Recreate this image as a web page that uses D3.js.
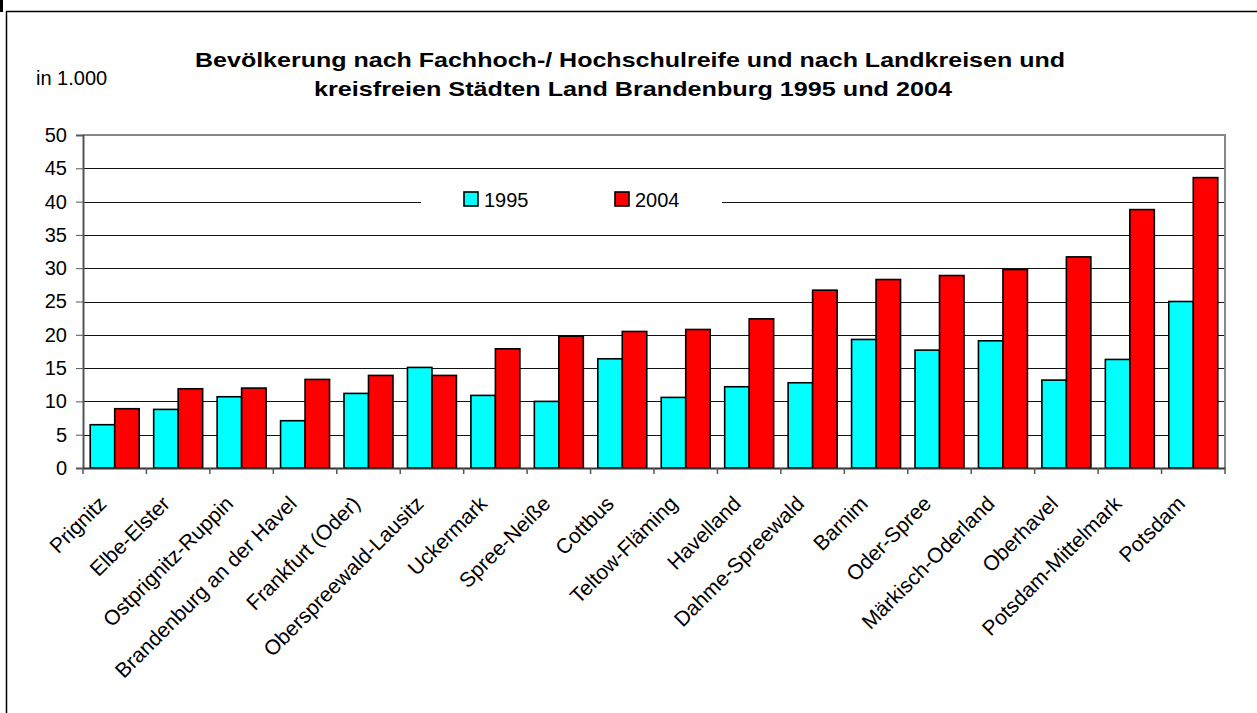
<!DOCTYPE html>
<html>
<head>
<meta charset="utf-8">
<script src="https://cdn.jsdelivr.net/npm/d3@7"></script>
<style>
  body { margin: 0; background: #fff; }
  svg { display: block; font-family: "Liberation Sans", Arial, sans-serif; }
</style>
</head>
<body>
<svg width="1257" height="713"></svg>
<script>
// Data (in 1.000)
var categories = ['Prignitz', 'Elbe-Elster', 'Ostprignitz-Ruppin', 'Brandenburg an der Havel',
    'Frankfurt (Oder)', 'Oberspreewald-Lausitz', 'Uckermark', 'Spree-Neiße', 'Cottbus',
    'Teltow-Fläming', 'Havelland', 'Dahme-Spreewald', 'Barnim', 'Oder-Spree',
    'Märkisch-Oderland', 'Oberhavel', 'Potsdam-Mittelmark', 'Potsdam'];
var years = ['1995', '2004'];
var values1995 = [6.5, 8.8, 10.7, 7.1, 11.2, 15.1, 10.9, 10.0, 16.4, 10.6, 12.2, 12.8, 19.3, 17.7, 19.1, 13.2, 16.3, 25.0];
var values2004 = [8.9, 11.9, 12.0, 13.3, 13.9, 13.9, 17.9, 19.8, 20.5, 20.8, 22.4, 26.7, 28.3, 28.9, 29.8, 31.7, 38.8, 43.6];
var yTicks = [0, 5, 10, 15, 20, 25, 30, 35, 40, 45, 50];
var colors = ['#00ffff', '#ff0000'];

var svg = d3.select('svg');

// outer frame of the chart sheet
svg.append('rect').attr('x', 0).attr('y', 0).attr('width', 3).attr('height', 12).attr('fill', '#000');
svg.append('line').attr('x1', 6).attr('x2', 1257).attr('y1', 11.5).attr('y2', 11.5)
    .attr('stroke', '#000').attr('stroke-width', 1.5);
svg.append('line').attr('x1', 6.5).attr('x2', 6.5).attr('y1', 11).attr('y2', 713)
    .attr('stroke', '#000').attr('stroke-width', 1.5);

// title (glyphs are drawn wide in the original, so stretch to its width)
var title = svg.append('g')
    .style('font-weight', 'bold')
    .style('font-size', '21px');
title.append('text').attr('x', 195).attr('y', 67)
    .attr('textLength', 870).attr('lengthAdjust', 'spacingAndGlyphs')
    .text('Bevölkerung nach Fachhoch-/ Hochschulreife und nach Landkreisen und');
title.append('text').attr('x', 314).attr('y', 96)
    .attr('textLength', 638).attr('lengthAdjust', 'spacingAndGlyphs')
    .text('kreisfreien Städten Land Brandenburg 1995 und 2004');

svg.append('text')
    .attr('x', 36).attr('y', 85)
    .style('font-size', '20px')
    .text('in 1.000');

// plot area bounds
var plotLeft = 83, plotRight = 1225, plotTop = 135, plotBottom = 468;

var xScale = d3.scaleBand()
    .domain(categories)
    .range([plotLeft, plotRight])
    .paddingInner(0.228)
    .paddingOuter(0.114);

var xSub = d3.scaleBand()
    .domain(years)
    .range([0, xScale.bandwidth()]);

var yScale = d3.scaleLinear()
    .domain([0, 50])
    .range([plotBottom, plotTop]);

// gridlines
svg.append('g').selectAll('line')
    .data(yTicks.filter(function(d) { return d > 0 && d < 50; }))
    .enter().append('line')
    .attr('x1', plotLeft).attr('x2', plotRight)
    .attr('y1', function(d) { return Math.round(yScale(d)) + 0.5; })
    .attr('y2', function(d) { return Math.round(yScale(d)) + 0.5; })
    .attr('stroke', '#111')
    .attr('stroke-width', 1);

// plot area border (top + right)
svg.append('path')
    .attr('d', 'M' + plotLeft + ',' + plotTop + 'H' + plotRight + 'V' + plotBottom)
    .attr('fill', 'none')
    .attr('stroke', '#888')
    .attr('stroke-width', 2);

// legend, white box over the 40 gridline
var legend = svg.append('g');
legend.append('rect')
    .attr('x', 421).attr('y', 184).attr('width', 301).attr('height', 32)
    .attr('fill', '#fff');
var legendX = [464, 615];
years.forEach(function(y, i) {
    legend.append('rect')
        .attr('x', legendX[i]).attr('y', 192)
        .attr('width', 14).attr('height', 14)
        .attr('fill', colors[i])
        .attr('stroke', '#000')
        .attr('stroke-width', 1.6);
    legend.append('text')
        .attr('x', legendX[i] + 20).attr('y', 207)
        .style('font-size', '20px')
        .text(y);
});

// bars
var rows = categories.map(function(c, i) {
    return { name: c, vals: [values1995[i], values2004[i]] };
});

var groups = svg.append('g').selectAll('g')
    .data(rows)
    .enter().append('g')
    .attr('transform', function(d) { return 'translate(' + xScale(d.name) + ',0)'; });

groups.selectAll('rect')
    .data(function(d) { return d.vals.map(function(v, j) { return { year: years[j], v: v, j: j }; }); })
    .enter().append('rect')
    .attr('x', function(d) { return xSub(d.year); })
    .attr('width', xSub.bandwidth())
    .attr('y', function(d) { return yScale(d.v); })
    .attr('height', function(d) { return plotBottom - yScale(d.v); })
    .attr('fill', function(d) { return colors[d.j]; })
    .attr('stroke', '#000')
    .attr('stroke-width', 1.6);

// y axis
var yAxisG = svg.append('g')
    .attr('transform', 'translate(' + plotLeft + ',0)')
    .call(d3.axisLeft(yScale).tickValues(yTicks).tickSize(7).tickPadding(9));
yAxisG.select('.domain').attr('stroke', '#555').attr('stroke-width', 2);
yAxisG.selectAll('.tick line').attr('stroke', '#555');
yAxisG.selectAll('text')
    .style('font-size', '20px')
    .style('font-family', '"Liberation Sans", Arial, sans-serif')
    .attr('fill', '#000');

// x axis
var xAxisG = svg.append('g')
    .attr('transform', 'translate(0,' + plotBottom + ')')
    .call(d3.axisBottom(xScale).tickSize(0).tickFormat(''));
xAxisG.select('.domain').attr('stroke', '#333').attr('stroke-width', 2);

// category separator ticks on x axis
var tickPos = categories.map(function(c) { return xScale(c) - xScale.step() * xScale.paddingInner() / 2; });
tickPos.push(plotRight);
svg.append('g').selectAll('line')
    .data(tickPos)
    .enter().append('line')
    .attr('x1', function(d) { return d; })
    .attr('x2', function(d) { return d; })
    .attr('y1', plotBottom).attr('y2', plotBottom + 6)
    .attr('stroke', '#555')
    .attr('stroke-width', 1.5);

// rotated category labels
svg.append('g').selectAll('text')
    .data(categories)
    .enter().append('text')
    .attr('transform', function(d) {
        var cx = xScale(d) + xScale.bandwidth() / 2;
        return 'translate(' + (cx - 7) + ',505) rotate(-45)';
    })
    .attr('text-anchor', 'end')
    .style('font-size', '21px')
    .text(function(d) { return d; });
</script>
</body>
</html>
